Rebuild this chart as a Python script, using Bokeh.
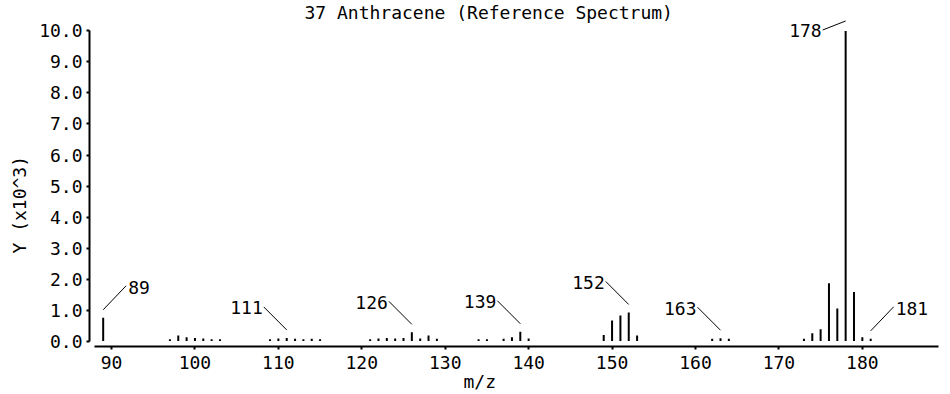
from bokeh.plotting import figure
from bokeh.models import Range1d, FixedTicker, PrintfTickFormatter, Title
from bokeh.embed import file_html
from bokeh.resources import INLINE
from bokeh.core.properties import value

# ---------------- data ----------------
title_text = "37 Anthracene (Reference Spectrum)"
x_label = "m/z"
y_label = "Y (x10^3)"

mz = [89,
      97, 98, 99, 100, 101, 102, 103,
      109, 110, 111, 112, 113, 114, 115,
      121, 122, 123, 124, 125, 126, 127, 128, 129,
      134, 135, 137, 138, 139, 140,
      149, 150, 151, 152, 153,
      162, 163, 164,
      173, 174, 175, 176, 177, 178, 179, 180, 181]
intensity = [0.75,
             0.06, 0.18, 0.12, 0.10, 0.08, 0.06, 0.06,
             0.06, 0.08, 0.10, 0.07, 0.06, 0.07, 0.06,
             0.06, 0.08, 0.10, 0.08, 0.10, 0.28, 0.08, 0.18, 0.07,
             0.06, 0.06, 0.07, 0.12, 0.30, 0.08,
             0.19, 0.66, 0.82, 0.92, 0.18,
             0.07, 0.09, 0.07,
             0.07, 0.25, 0.38, 1.86, 1.05, 10.0, 1.58, 0.12, 0.07]

labeled_mz = [89, 111, 126, 139, 152, 163, 178, 181]
label_side = ["right", "left", "left", "left", "left", "left", "top", "right"]

x_ticks = [90, 100, 110, 120, 130, 140, 150, 160, 170, 180]
y_ticks = [0, 1, 2, 3, 4, 5, 6, 7, 8, 9, 10]

# ---------------- layout / style ----------------
FONT = "DejaVu Sans Mono"
FS = "18px"
X0, X1 = 87.36, 189.13
Y0, Y1 = -0.177, 10.403
FRAME_W, FRAME_H = 850, 328
kx = FRAME_W / (X1 - X0)
ky = FRAME_H / (Y1 - Y0)

p = figure(width=950, height=394,
           x_range=Range1d(X0, X1), y_range=Range1d(Y0, Y1),
           output_backend="svg", toolbar_location=None,
           min_border_left=88, min_border_right=12,
           min_border_top=18, min_border_bottom=48)
p.outline_line_color = None
p.grid.visible = False
p.background_fill_color = "white"
p.border_fill_color = "white"

# sticks
p.segment(x0=mz, y0=[0] * len(mz), x1=mz, y1=intensity,
          line_width=2, line_color="black")

# peak labels with leader lines
lut = dict(zip(mz, intensity))
lx0, ly0, lx1, ly1 = [], [], [], []
tx_l, ty_l, tt_l = [], [], []
tx_r, ty_r, tt_r = [], [], []
for m, side in zip(labeled_mz, label_side):
    v = lut[m]
    if side == "left":
        sy = v + 8 / ky
        ex, ey = m - 23 / kx, sy + 23 / ky
        tx_l.append(ex); ty_l.append(ey); tt_l.append(str(m))
    elif side == "right":
        sy = v + 8 / ky
        ex, ey = m + 23 / kx, sy + 24 / ky
        tx_r.append(ex); ty_r.append(ey); tt_r.append(str(m))
    else:  # top
        sy = v + 10 / ky
        ex, ey = m - 23 / kx, sy - 9 / ky
        tx_l.append(ex); ty_l.append(ey); tt_l.append(str(m))
    lx0.append(m); ly0.append(sy); lx1.append(ex); ly1.append(ey)

p.segment(x0=lx0, y0=ly0, x1=lx1, y1=ly1, line_width=1, line_color="black")
p.text(x=tx_l, y=ty_l, text=tt_l, text_font=value(FONT), text_font_size=value(FS),
       text_align="right", text_baseline="middle", x_offset=-1, y_offset=1,
       text_color="black")
p.text(x=tx_r, y=ty_r, text=tt_r, text_font=value(FONT), text_font_size=value(FS),
       text_align="left", text_baseline="middle", x_offset=2, y_offset=2,
       text_color="black")

# axes
p.xaxis.ticker = FixedTicker(ticks=x_ticks)
p.xaxis.bounds = (87.96, X1)
p.yaxis.ticker = FixedTicker(ticks=y_ticks)
p.yaxis.formatter = PrintfTickFormatter(format="%.1f")
p.yaxis.bounds = (0, 10)
for ax in p.axis:
    ax.axis_line_width = 2
    ax.axis_line_color = "black"
    ax.major_tick_line_width = 2
    ax.major_tick_line_color = "black"
    ax.major_tick_out = 3
    ax.major_tick_in = 0
    ax.minor_tick_out = 0
    ax.minor_tick_in = 0
    ax.major_label_text_font = FONT
    ax.major_label_text_font_size = FS
    ax.major_label_text_color = "black"
p.xaxis.major_label_standoff = 6
p.yaxis.major_label_standoff = 4

# titles (placed in the side panels so they are not clipped by the frame)
p.add_layout(Title(text=title_text, align="left", offset=215, standoff=-8,
                   text_font=FONT, text_font_size=FS, text_font_style="normal",
                   text_color="black"), "above")
p.add_layout(Title(text=x_label, align="left", offset=374, standoff=-2,
                   vertical_align="top",
                   text_font=FONT, text_font_size=FS, text_font_style="normal",
                   text_color="black"), "below")
p.add_layout(Title(text=y_label, align="left", offset=93, standoff=13,
                   text_font=FONT, text_font_size=FS, text_font_style="normal",
                   text_color="black"), "left")

open("out.html", "w").write(file_html(p, INLINE))
